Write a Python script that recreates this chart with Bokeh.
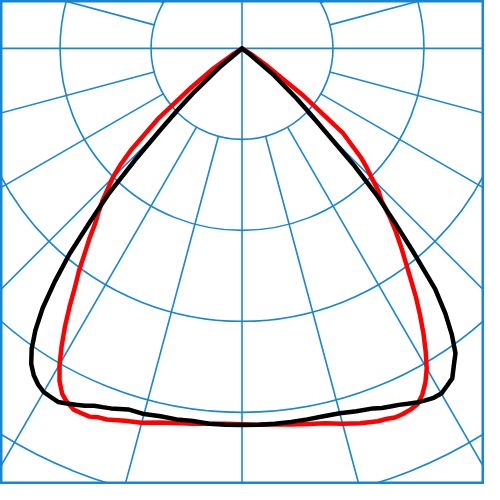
import numpy as np
from bokeh.plotting import figure
from bokeh.models import Range1d
from bokeh.embed import file_html
from bokeh.resources import INLINE

# Polar luminous intensity data (gamma angle from nadir, degrees)
gamma = [0, 2.5, 5, 7.5, 10, 12.5, 15, 17.5, 20,
         21.25, 22.5, 23.75, 25, 26.25, 27.5, 28.75, 30, 31.25, 32.5, 33.75,
         35, 36.25, 37.5, 38.75, 40, 41.25, 42.5, 43.75, 45, 46.25, 47.5,
         50, 52.5, 55, 57.5, 60]

# red curve: C0 (right half) and C180 (left half)
red_c0 = [413, 414, 415, 417, 419, 422, 427, 432, 436,
          437, 439, 439, 438, 436, 429, 419, 406, 389, 371, 352,
          333, 313, 295, 279, 263, 246, 227, 217, 202, 190, 177,
          145, 83, 34, 13, 0]
red_c180 = [413, 413, 414, 416, 418, 421, 426, 429, 434,
            435, 438, 438, 438, 434, 428, 417, 401, 382, 362, 341,
            320, 303, 284, 268, 251, 239, 227, 213, 201, 185, 166,
            121, 70, 38, 11, 0]

# black curve: C90 (right half) and C270 (left half)
black_c90 = [414, 414, 414, 414, 414, 414, 415, 418, 421,
             424, 426, 428, 431, 434, 436, 438, 438, 434, 430, 419,
             409, 390, 367, 339, 295, 255, 221, 179, 131, 103, 81,
             46, 11, 0, 0, 0]
black_c270 = [414, 414, 414, 413, 414, 414, 416, 416, 421,
              423, 425, 429, 432, 435, 438, 437, 436, 432, 426, 417,
              403, 384, 360, 329, 295, 253, 218, 171, 128, 99, 74,
              30, 0, 0, 0, 0]

rings = [100, 200, 300, 400, 500, 600]
spoke_angles = list(range(0, 360, 15))

GRID = "#1a85d2"
PX = 0.94          # reference pixels per unit
cx, cy = 249.5, 49.5

p = figure(width=484, height=484,
           x_range=Range1d(-cx / PX, (500 - cx) / PX),
           y_range=Range1d((cy - 500) / PX, cy / PX),
           output_backend="svg", toolbar_location=None, min_border=0)
p.axis.visible = False
p.grid.visible = False
p.background_fill_color = "white"
p.border_fill_color = "white"
p.outline_line_color = GRID
p.outline_line_width = 4

# rings
p.circle(x=[0] * len(rings), y=[0] * len(rings), radius=rings,
         fill_color=None, line_color=GRID, line_width=1.6)

# spokes
xs, ys = [], []
for a in spoke_angles:
    t = np.radians(a)
    r0 = 0 if a % 90 == 0 else rings[0]
    r1 = 900
    xs.append([r0 * np.sin(t), r1 * np.sin(t)])
    ys.append([-r0 * np.cos(t), -r1 * np.cos(t)])
p.multi_line(xs, ys, line_color=GRID, line_width=1.6)


def curve(left, right):
    g = np.radians(gamma)
    L = np.array(left, dtype=float)
    R = np.array(right, dtype=float)
    x = np.concatenate([(-L * np.sin(g))[::-1], (R * np.sin(g))[1:]])
    y = np.concatenate([(-L * np.cos(g))[::-1], (-R * np.cos(g))[1:]])
    return x, y


x, y = curve(red_c180, red_c0)
p.line(x, y, line_color="#ff0000", line_width=4.5, line_join="round", line_cap="round")
x, y = curve(black_c270, black_c90)
p.line(x, y, line_color="#000000", line_width=4.5, line_join="round", line_cap="round")

open("out.html", "w").write(file_html(p, INLINE))
